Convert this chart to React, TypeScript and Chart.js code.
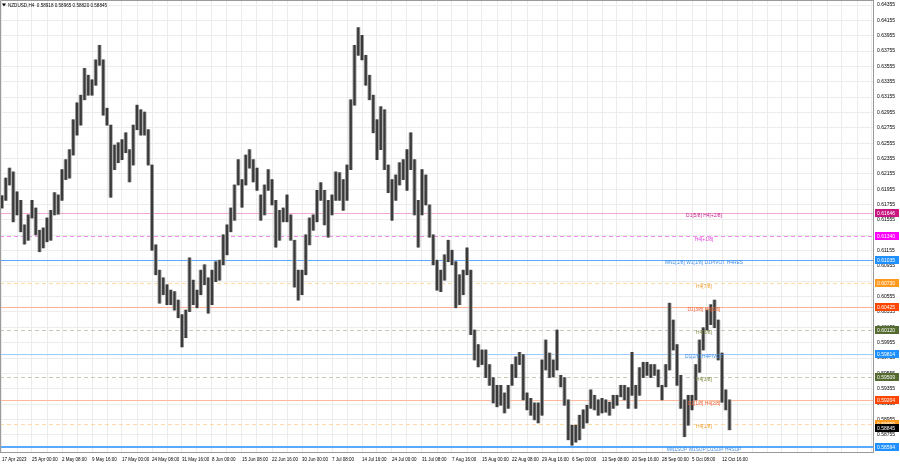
import React, { useEffect, useRef } from "react";
import { Chart, registerables } from "chart.js";

Chart.register(...registerables);

const SYMBOL_HEADER = "NZDUSD,H4  0.58918 0.58965 0.58820 0.58845";

const X_LABELS = [
  "17 Apr 2023", "25 Apr 00:00", "2 May 08:00", "9 May 16:00", "17 May 00:00",
  "24 May 08:00", "31 May 16:00", "8 Jun 00:00", "15 Jun 08:00", "22 Jun 16:00",
  "30 Jun 00:00", "7 Jul 08:00", "14 Jul 16:00", "24 Jul 00:00", "31 Jul 08:00",
  "7 Aug 16:00", "15 Aug 00:00", "22 Aug 08:00", "29 Aug 16:00", "6 Sep 00:00",
  "13 Sep 08:00", "20 Sep 16:00", "28 Sep 00:00", "5 Oct 08:00", "12 Oct 16:00",
];

const Y_TICKS = [
  0.58755, 0.58955, 0.59155, 0.59355, 0.59555, 0.59755, 0.59955, 0.60155, 0.60355, 0.60555,
  0.60755, 0.60955, 0.61155, 0.61355, 0.61555, 0.61755, 0.61955, 0.62155, 0.62355, 0.62555,
  0.62755, 0.62955, 0.63155, 0.63355, 0.63555, 0.63755, 0.63955, 0.64155, 0.64355,
];

// price range of each group of 4 H4 bars
const HIGHS = [
  0.6187, 0.6210, 0.6223, 0.6218, 0.6192, 0.6181, 0.6149, 0.6162, 0.6181, 0.6171,
  0.6142, 0.6145, 0.6158, 0.6168, 0.6191, 0.6188, 0.6221, 0.6234, 0.6247, 0.6286,
  0.6308, 0.6318, 0.6353, 0.6344, 0.6338, 0.6364, 0.6383, 0.6364, 0.6301, 0.6279,
  0.6253, 0.6256, 0.6260, 0.6269, 0.6247, 0.6279, 0.6305, 0.6299, 0.6296, 0.6273,
  0.6227, 0.6123, 0.6090, 0.6080, 0.6071, 0.6064, 0.6062, 0.6051, 0.6032, 0.6038,
  0.6106, 0.6077, 0.6064, 0.6090, 0.6097, 0.6080, 0.6090, 0.6101, 0.6103, 0.6136,
  0.6149, 0.6171, 0.6201, 0.6234, 0.6208, 0.6240, 0.6247, 0.6234, 0.6223, 0.6188,
  0.6201, 0.6221, 0.6208, 0.6181, 0.6168, 0.6171, 0.6188, 0.6162, 0.6129, 0.6090,
  0.6090, 0.6136, 0.6158, 0.6162, 0.6194, 0.6204, 0.6194, 0.6181, 0.6188, 0.6218,
  0.6217, 0.6208, 0.6227, 0.6312, 0.6383, 0.6406, 0.6396, 0.6370, 0.6344, 0.6318,
  0.6286, 0.6303, 0.6299, 0.6227, 0.6208, 0.6214, 0.6230, 0.6234, 0.6247, 0.6269,
  0.6234, 0.6181, 0.6221, 0.6214, 0.6175, 0.6136, 0.6103, 0.6090, 0.6110, 0.6129,
  0.6116, 0.6101, 0.6084, 0.6090, 0.6119, 0.6090, 0.6012, 0.5993, 0.5986, 0.5986,
  0.5967, 0.5950, 0.5940, 0.5940, 0.5930, 0.5940, 0.5967, 0.5977, 0.5983, 0.5980,
  0.5930, 0.5923, 0.5917, 0.5917, 0.5973, 0.5999, 0.5982, 0.5973, 0.6012, 0.5953,
  0.5950, 0.5921, 0.5888, 0.5888, 0.5901, 0.5908, 0.5914, 0.5934, 0.5927, 0.5921,
  0.5923, 0.5921, 0.5918, 0.5927, 0.5927, 0.5940, 0.5940, 0.5937, 0.5983, 0.5940,
  0.5963, 0.5970, 0.5970, 0.5967, 0.5967, 0.5960, 0.5940, 0.5967, 0.6047, 0.6025,
  0.5993, 0.5953, 0.5921, 0.5927, 0.5927, 0.5967, 0.5999, 0.6015, 0.6038, 0.6045,
  0.6051, 0.6025, 0.5982, 0.5934, 0.5921,
];

const LOWS = [
  0.6171, 0.6181, 0.6201, 0.6153, 0.6162, 0.6140, 0.6124, 0.6129, 0.6158, 0.6136,
  0.6114, 0.6119, 0.6127, 0.6129, 0.6162, 0.6163, 0.6181, 0.6208, 0.6210, 0.6240,
  0.6266, 0.6279, 0.6312, 0.6318, 0.6318, 0.6331, 0.6357, 0.6292, 0.6279, 0.6185,
  0.6221, 0.6230, 0.6234, 0.6243, 0.6205, 0.6227, 0.6273, 0.6266, 0.6266, 0.6227,
  0.6116, 0.6084, 0.6047, 0.6058, 0.6045, 0.6045, 0.6038, 0.6028, 0.5990, 0.6002,
  0.6036, 0.6045, 0.6041, 0.6058, 0.6071, 0.6034, 0.6045, 0.6075, 0.6077, 0.6097,
  0.6110, 0.6140, 0.6155, 0.6201, 0.6172, 0.6201, 0.6223, 0.6205, 0.6194, 0.6155,
  0.6162, 0.6194, 0.6175, 0.6120, 0.6129, 0.6153, 0.6153, 0.6129, 0.6068, 0.6051,
  0.6058, 0.6084, 0.6123, 0.6142, 0.6153, 0.6181, 0.6149, 0.6133, 0.6162, 0.6181,
  0.6181, 0.6168, 0.6181, 0.6221, 0.6305, 0.6370, 0.6364, 0.6331, 0.6312, 0.6269,
  0.6234, 0.6247, 0.6221, 0.6191, 0.6155, 0.6181, 0.6201, 0.6208, 0.6194, 0.6221,
  0.6162, 0.6120, 0.6162, 0.6175, 0.6133, 0.6097, 0.6064, 0.6062, 0.6077, 0.6101,
  0.6097, 0.6041, 0.6045, 0.6058, 0.6084, 0.6006, 0.5973, 0.5964, 0.5967, 0.5950,
  0.5940, 0.5917, 0.5912, 0.5914, 0.5904, 0.5910, 0.5940, 0.5950, 0.5967, 0.5921,
  0.5908, 0.5901, 0.5895, 0.5891, 0.5901, 0.5960, 0.5950, 0.5951, 0.5960, 0.5938,
  0.5914, 0.5869, 0.5862, 0.5866, 0.5869, 0.5884, 0.5891, 0.5910, 0.5908, 0.5901,
  0.5904, 0.5905, 0.5901, 0.5910, 0.5914, 0.5925, 0.5921, 0.5910, 0.5927, 0.5910,
  0.5927, 0.5950, 0.5953, 0.5950, 0.5953, 0.5938, 0.5921, 0.5938, 0.5960, 0.5986,
  0.5940, 0.5910, 0.5873, 0.5888, 0.5908, 0.5921, 0.5957, 0.5986, 0.6012, 0.6019,
  0.6015, 0.5973, 0.5918, 0.5908, 0.5882,
];

const LEVELS = [0.61646, 0.6134, 0.61035, 0.6073, 0.60425, 0.6012, 0.59814, 0.59509, 0.59204, 0.58899, 0.58594];
const LEVEL_NAMES = [
  "D1[5/8] H4[+2/8]", "H4[+1/8]", "MN1[1/8] W1[1/8] D1PIVOT H4RES", "H4[7/8]",
  "D1[3/8] H4[6/8]", "H4[5/8]", "D1[2/8] H4PIVOT", "H4[3/8]", "D1[1/8] H4[2/8]",
  "H4[1/8]", "MN1SUP W1SUP D1SUP H4SUP",
];
const CURRENT_PRICE = 0.58845;

// styles
const LINE_COLORS = ["#f3a8d2", "#f08cf0", "#5aa8ff", "#ffd9a6", "#ffb095", "#c9c9b6", "#9ccbff", "#c9c9b6", "#ffb89a", "#ffd9a6", "#5aa8ff"];
const LINE_DASHED = [false, true, false, true, false, true, false, true, false, true, false];
const LINE_WIDTHS = [1, 1, 1, 1, 1, 1, 1, 1, 1, 1, 2];
const TEXT_COLORS = ["#c8248c", "#e040e0", "#3f8fe8", "#f0a030", "#f06030", "#7a8a40", "#3f8fe8", "#7a8a40", "#f06030", "#f0a030", "#3f8fe8"];
const BADGE_COLORS = ["#c8157f", "#ff00ff", "#1e90ff", "#ff9a1e", "#ff4500", "#556b2f", "#1e90ff", "#556b2f", "#ff4500", "#ff9a1e", "#1e90ff"];

const FONT = "'Liberation Sans', Arial, sans-serif";
const COL_PX = 3.75;
const X_MIN = -2 / COL_PX;
const X_MAX = (873 - 2) / COL_PX;
const LABEL_COL = (704 - 2) / COL_PX;

const gridCols: number[] = [];
for (let c = 0; c <= X_MAX; c += 4) gridCols.push(c);

const levelsPlugin = {
  id: "levels",
  beforeDatasetsDraw(chart: any) {
    const { ctx, chartArea, scales } = chart;
    ctx.save();
    LEVELS.forEach((lv, i) => {
      const y = Math.round(scales.y.getPixelForValue(lv)) + (LINE_WIDTHS[i] === 2 ? 0 : 0.5);
      ctx.strokeStyle = LINE_COLORS[i];
      ctx.lineWidth = LINE_WIDTHS[i];
      ctx.setLineDash(LINE_DASHED[i] ? [4, 3] : []);
      ctx.beginPath();
      ctx.moveTo(chartArea.left, y);
      ctx.lineTo(chartArea.right, y);
      ctx.stroke();
    });
    ctx.restore();
  },
  afterDraw(chart: any) {
    const { ctx, chartArea, scales } = chart;
    ctx.save();
    ctx.font = `4.9px ${FONT}`;
    ctx.textAlign = "center";
    ctx.textBaseline = "top";
    const lx = scales.x.getPixelForValue(LABEL_COL);
    LEVELS.forEach((lv, i) => {
      const y = scales.y.getPixelForValue(lv);
      ctx.fillStyle = TEXT_COLORS[i];
      ctx.fillText(LEVEL_NAMES[i], lx, y + 0.5);
    });
    const badge = (v: number, color: string) => {
      const y = Math.round(scales.y.getPixelForValue(v));
      ctx.fillStyle = color;
      ctx.fillRect(chartArea.right + 2, y - 4, 900 - chartArea.right - 3, 8);
      ctx.fillStyle = "#ffffff";
      ctx.font = `5px ${FONT}`;
      ctx.textAlign = "left";
      ctx.textBaseline = "middle";
      ctx.fillText(v.toFixed(5), chartArea.right + 4, y + 0.5);
    };
    LEVELS.forEach((lv, i) => badge(lv, BADGE_COLORS[i]));
    badge(CURRENT_PRICE, "#000000");
    ctx.strokeStyle = "#9a9a9a";
    ctx.lineWidth = 1;
    ctx.beginPath();
    ctx.moveTo(chartArea.left + 0.5, chartArea.bottom);
    ctx.lineTo(chartArea.left + 0.5, chartArea.top + 0.5);
    ctx.lineTo(chartArea.right, chartArea.top + 0.5);
    ctx.stroke();
    ctx.fillStyle = "#000";
    ctx.beginPath();
    ctx.moveTo(2, 3.5);
    ctx.lineTo(6, 3.5);
    ctx.lineTo(4, 6.5);
    ctx.closePath();
    ctx.fill();
    ctx.font = `4.6px ${FONT}`;
    ctx.textAlign = "left";
    ctx.textBaseline = "middle";
    ctx.fillText(SYMBOL_HEADER, 8, 5.5);
    ctx.restore();
  },
};

export default function App() {
  const ref = useRef<HTMLCanvasElement>(null);
  useEffect(() => {
    document.body.style.margin = "0";
    const canvas = ref.current!;
    const data = HIGHS.map((h, i) => ({ x: i, y: [LOWS[i], h] }));
    const chart = new Chart(canvas, {
      type: "bar",
      data: {
        datasets: [
          {
            data: data as any,
            backgroundColor: "#3a3a3a",
            borderWidth: 0,
            barThickness: 1.6,
            grouped: false,
            order: 1,
          } as any,
          {
            data: data as any,
            backgroundColor: "#a6a6a6",
            borderWidth: 0,
            barThickness: 3.4,
            grouped: false,
            order: 2,
          } as any,
        ],
      },
      options: {
        animation: false,
        responsive: false,
        devicePixelRatio: 1,
        layout: { padding: 0 },
        plugins: { legend: { display: false }, tooltip: { enabled: false } },
        scales: {
          x: {
            type: "linear",
            offset: false,
            min: X_MIN,
            max: X_MAX,
            afterBuildTicks: (s: any) => {
              s.ticks = gridCols.map((v) => ({ value: v }));
            },
            afterFit: (s: any) => {
              s.height = 16;
              s.paddingLeft = 0;
              s.paddingRight = 0;
            },
            ticks: {
              autoSkip: false,
              maxRotation: 0,
              minRotation: 0,
              align: "start",
              padding: 5,
              color: "#000",
              font: { family: FONT, size: 4.5 },
              callback: (v: any) => {
                const n = Math.round(Number(v));
                if (n % 8 !== 0) return "";
                return X_LABELS[n / 8] ?? "";
              },
            },
            grid: { color: "#ececec", lineWidth: 1, drawTicks: false, offset: false },
            border: { display: true, color: "#9a9a9a" },
          },
          y: {
            position: "right",
            min: 0.64355 - 447 / 7675,
            max: 0.64355 + 5 / 7675,
            afterBuildTicks: (s: any) => {
              s.ticks = Y_TICKS.map((v) => ({ value: v }));
            },
            afterFit: (s: any) => {
              s.width = 27;
              s.paddingTop = 0;
              s.paddingBottom = 0;
            },
            ticks: {
              autoSkip: false,
              padding: 4,
              color: "#000",
              font: { family: FONT, size: 5 },
              callback: (v: any) => Number(v).toFixed(5),
            },
            grid: { color: "#ececec", lineWidth: 1, drawTicks: false },
            border: { display: true, color: "#9a9a9a" },
          },
        },
      },
      plugins: [levelsPlugin],
    });
    return () => chart.destroy();
  }, []);
  return (
    <div style={{ width: 900, height: 468, background: "#fff" }}>
      <canvas ref={ref} width={900} height={468} style={{ display: "block", width: 900, height: 468 }} />
    </div>
  );
}
